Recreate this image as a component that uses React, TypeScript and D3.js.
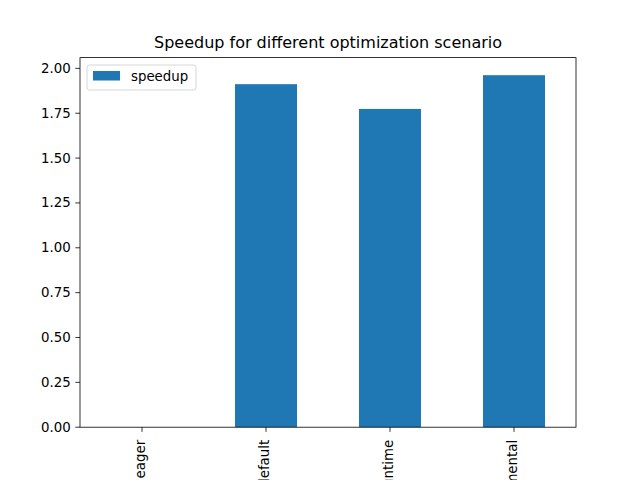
import React from "react";
import * as d3 from "d3";

const categories = ["eager", "default", "max-autotune-runtime", "experimental"];
const speedup = [0, 1.912, 1.774, 1.962];
const yTicks = [0, 0.25, 0.5, 0.75, 1.0, 1.25, 1.5, 1.75, 2.0];
const title = "Speedup for different optimization scenario";
const seriesName = "speedup";

const W = 640, H = 480;
const L = 80, R = 576, T = 57.6, B = 427.2;
const color = "#1f77b4";
const font = "DejaVu Sans, sans-serif";

export default function App() {
  const x = d3.scaleLinear().domain([-0.5, categories.length - 0.5]).range([L, R]);
  const ymax = d3.max(speedup)! * 1.05;
  const y = d3.scaleLinear().domain([0, ymax]).range([B, T]);
  const bw = x(0.25) - x(-0.25);
  const tick = 4.67;
  return (
    <svg width={W} height={H} style={{ position: "absolute", left: 0, top: 0 }} fontFamily={font}>
      <rect x={0} y={0} width={W} height={H} fill="#fff" />
      {speedup.map((v, i) => (
        <rect key={i} x={x(i) - bw / 2} y={y(v)} width={bw} height={B - y(v)} fill={color} />
      ))}
      <rect x={L} y={T} width={R - L} height={B - T} fill="none" stroke="#000" strokeWidth={0.8} />
      {yTicks.map((t) => (
        <g key={t}>
          <line x1={L - tick} x2={L} y1={y(t)} y2={y(t)} stroke="#000" strokeWidth={0.8} />
          <text x={L - tick - 4.67} y={y(t)} textAnchor="end" dominantBaseline="central" fontSize={13.33} fill="#000">
            {t.toFixed(2)}
          </text>
        </g>
      ))}
      {categories.map((c, i) => (
        <g key={c}>
          <line x1={x(i)} x2={x(i)} y1={B} y2={B + tick} stroke="#000" strokeWidth={0.8} />
          <text
            transform={`translate(${x(i) - 1.5},${B + tick + 8}) rotate(-90)`}
            textAnchor="end"
            dominantBaseline="central"
            fontSize={13.33}
            fill="#000"
          >
            {c}
          </text>
        </g>
      ))}
      <text x={(L + R) / 2} y={48} textAnchor="middle" fontSize={16} fill="#000">
        {title}
      </text>
      <g>
        <rect x={87} y={65} width={109} height={25} rx={2.5} fill="#fff" fillOpacity={0.8} stroke="#ccc" strokeWidth={0.8} />
        <rect x={93} y={71} width={27} height={9.5} fill={color} />
        <text x={131} y={76} dominantBaseline="central" fontSize={13.33} fill="#000">
          {seriesName}
        </text>
      </g>
    </svg>
  );
}
